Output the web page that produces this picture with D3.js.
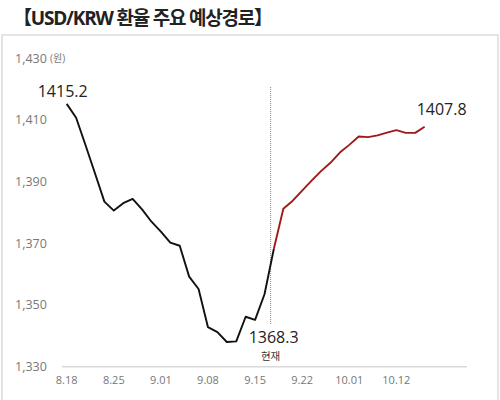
<!DOCTYPE html>
<html>
<head>
<meta charset="utf-8">
<script src="https://cdn.jsdelivr.net/npm/d3@7"></script>
<style>
  body { margin: 0; background: #fff; }
  text { font-family: "Open Sans", "Noto Sans CJK KR", sans-serif; }
</style>
</head>
<body>
<div id="chart"></div>
<script>
// 영업일 기준 인덱스 (0 = 8.18)
const tickIndex  = [0, 5, 10, 15, 20, 25, 30, 35];
const tickLabels = ["8.18", "8.25", "9.01", "9.08", "9.15", "9.22", "10.01", "10.12"];
const yTicks     = [1330, 1350, 1370, 1390, 1410, 1430];

// 실제 환율 (현재까지)
const actual = [
  1415.2, 1410.7, 1401.8, 1392.7, 1383.5, 1380.6, 1383.0, 1384.4,
  1381.0, 1377.0, 1373.8, 1370.2, 1369.2, 1359.2, 1355.2, 1342.8,
  1341.2, 1338.0, 1338.2, 1346.2, 1345.2, 1353.5, 1368.3
];
// 예상 경로 (현재 시점부터)
const forecast = [
  1368.3, 1381.2, 1383.8, 1387.1, 1390.3, 1393.4, 1396.1, 1399.4,
  1401.9, 1404.6, 1404.4, 1405.0, 1405.9, 1406.7, 1405.8, 1405.8, 1407.8
];
const nowIndex = 21.65;

const width = 500, height = 400;

const svg = d3.select("#chart").append("svg")
  .attr("width", width)
  .attr("height", height);

// 제목
svg.append("text")
  .attr("x", 13)
  .attr("y", 25)
  .attr("font-family", "'Noto Sans CJK KR', sans-serif")
  .attr("font-size", 19)
  .attr("font-weight", 700)
  .attr("letter-spacing", -1.2)
  .attr("fill", "#222")
  .text("【USD/KRW 환율 주요 예상경로】");

// 패널 테두리
svg.append("rect")
  .attr("x", 2)
  .attr("y", 35)
  .attr("width", 496)
  .attr("height", 380)
  .attr("fill", "none")
  .attr("stroke", "#dcdcdc")
  .attr("stroke-width", 1.5);

const x = d3.scaleLinear().domain([-0.5, 42.5]).range([62, 467]);
const y = d3.scaleLinear().domain([1330, 1430]).range([366.7, 58.2]);

// y축 라벨
svg.append("g")
  .selectAll("text")
  .data(yTicks)
  .enter()
  .append("text")
  .attr("x", 15)
  .attr("y", d => y(d))
  .attr("dy", "0.35em")
  .attr("font-size", 12.5)
  .attr("fill", "#777")
  .text(d => d3.format(",")(d));

svg.append("text")
  .attr("x", 50)
  .attr("y", y(1430))
  .attr("dy", "0.35em")
  .attr("font-family", "'Noto Sans CJK KR', sans-serif")
  .attr("font-size", 10)
  .attr("fill", "#777")
  .text("(원)");

// x축
svg.append("line")
  .attr("x1", x(-0.5))
  .attr("x2", x(42.5))
  .attr("y1", y(1330))
  .attr("y2", y(1330))
  .attr("stroke", "#d9d9d9")
  .attr("stroke-width", 1.5);

svg.append("g")
  .selectAll("text")
  .data(tickIndex)
  .enter()
  .append("text")
  .attr("x", d => x(d))
  .attr("y", 380)
  .attr("dy", "0.35em")
  .attr("text-anchor", "middle")
  .attr("font-size", 11)
  .attr("fill", "#777")
  .text((d, i) => tickLabels[i]);

// 현재 시점 점선
svg.append("line")
  .attr("x1", x(nowIndex))
  .attr("x2", x(nowIndex))
  .attr("y1", 87)
  .attr("y2", 325)
  .attr("stroke", "#888")
  .attr("stroke-width", 1)
  .attr("stroke-dasharray", "1,1");

const line = d3.line()
  .x(d => x(d.i))
  .y(d => y(d.v));

const actualPts = actual.map((v, i) => ({ i, v }));
const forecastPts = forecast.map((v, k) => ({ i: actual.length - 1 + k, v }));

svg.append("path")
  .datum(actualPts)
  .attr("d", line)
  .attr("fill", "none")
  .attr("stroke", "#111")
  .attr("stroke-width", 1.9)
  .attr("stroke-linejoin", "round");

svg.append("path")
  .datum(forecastPts)
  .attr("d", line)
  .attr("fill", "none")
  .attr("stroke", "#a11a1a")
  .attr("stroke-width", 1.9)
  .attr("stroke-linejoin", "round");

// 값 라벨
const first = actualPts[0];
const now = actualPts[actualPts.length - 1];
const last = forecastPts[forecastPts.length - 1];

svg.append("text")
  .attr("x", x(first.i) - 4)
  .attr("y", y(first.v) - 7)
  .attr("text-anchor", "middle")
  .attr("font-size", 16)
  .attr("fill", "#222")
  .text(first.v.toFixed(1));

svg.append("text")
  .attr("x", x(last.i) + 17)
  .attr("y", y(last.v) - 12)
  .attr("text-anchor", "middle")
  .attr("font-size", 16)
  .attr("fill", "#222")
  .text(last.v.toFixed(1));

svg.append("text")
  .attr("x", x(nowIndex) + 3)
  .attr("y", 343)
  .attr("text-anchor", "middle")
  .attr("font-size", 16)
  .attr("fill", "#222")
  .text(now.v.toFixed(1));

svg.append("text")
  .attr("x", x(nowIndex))
  .attr("y", 360)
  .attr("text-anchor", "middle")
  .attr("font-family", "'Noto Sans CJK KR', sans-serif")
  .attr("font-size", 10.5)
  .attr("fill", "#333")
  .text("현재");
</script>
</body>
</html>
